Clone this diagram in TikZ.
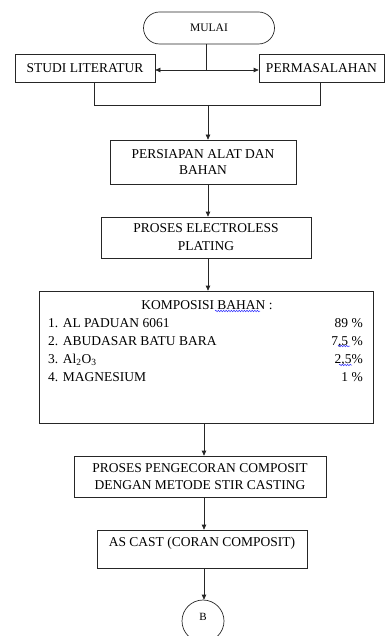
\documentclass[tikz,border=0pt]{standalone}
\usepackage{fontspec}
\setmainfont{Liberation Serif}
\usetikzlibrary{arrows.meta,calc,decorations.pathmorphing}
\begin{document}
\begin{tikzpicture}[x=1pt,y=-1pt,
  box/.style={draw=black!85,line width=0.7pt,inner sep=0pt,align=center,
    font=\fontsize{13.5}{16}\selectfont},
  txt/.style={inner sep=0pt,font=\fontsize{13.5}{16}\selectfont},
  conn/.style={draw=black!85,line width=0.7pt},
  arr/.style={conn,-{Triangle[length=5pt,width=4.5pt]}},
  squig/.style={draw=blue!80,line width=0.5pt,decorate,
    decoration={snake,amplitude=0.8pt,segment length=2.6pt}}]
\useasboundingbox (0,0) rectangle (385,636);
% nodes
\node[box,rounded corners=16pt,minimum width=131pt,minimum height=32pt,
  font=\fontsize{11.5}{14}\selectfont] (mulai) at (209,28) {MULAI};
\node[box,minimum width=140pt,minimum height=28pt] (studi) at (85,68) {STUDI LITERATUR};
\node[box,minimum width=125pt,minimum height=28pt] (perm) at (321.5,68) {PERMASALAHAN};
\node[box,minimum width=186pt,minimum height=44pt,
  font=\fontsize{13.5}{15.3}\selectfont] (persiapan) at (203,162) {PERSIAPAN ALAT DAN\\BAHAN};
\node[box,minimum width=210pt,minimum height=41pt,
  font=\fontsize{13.5}{18}\selectfont] (electro) at (206,237.5) {PROSES ELECTROLESS\\PLATING};
\node[box,minimum width=334pt,minimum height=132pt] (komp) at (206,357) {};
\node[box,minimum width=252pt,minimum height=41pt,
  font=\fontsize{13.5}{17.7}\selectfont] (pengecoran) at (200,476.5) {PROSES PENGECORAN COMPOSIT\\DENGAN METODE STIR CASTING};
\node[box,minimum width=210pt,minimum height=38pt] (ascast) at (202,549) {};
\node[txt] (ascasttxt) at (202,543) {AS CAST (CORAN COMPOSIT)};
\node[draw=black!85,line width=0.7pt,circle,minimum size=42pt,inner sep=0pt,
  font=\fontsize{11}{13}\selectfont] (b) at (203,621) {};
\node[inner sep=0pt,font=\fontsize{11}{13}\selectfont] (btxt) at (203,617) {B};
% composition text
\node[txt,anchor=base] (ktitle) at (207,309.5) {KOMPOSISI BAHAN :};
\node[txt,anchor=base west] (k1) at (48,327.5) {1. AL PADUAN 6061};
\node[txt,anchor=base west] (k2) at (48,345.5) {2. ABUDASAR BATU BARA};
\node[txt,anchor=base west] (k3) at (48,363.5) {3. Al\textsubscript{2}O\textsubscript{3}};
\node[txt,anchor=base west] (k4) at (48,381.5) {4. MAGNESIUM};
\node[txt,anchor=base east] (p1) at (363,327.5) {89 \%};
\node[txt,anchor=base east] (p2) at (363,345.5) {7,5 \%};
\node[txt,anchor=base east] (p3) at (363,363.5) {2,5\%};
\node[txt,anchor=base east] (p4) at (363,381.5) {1 \%};
% spell-check squiggles
\coordinate (s1a) at (215,311); \coordinate (s1b) at (260,311);
\coordinate (s2a) at (338,346); \coordinate (s2b) at (350,346);
\coordinate (s3a) at (339,365); \coordinate (s3b) at (352,365);
\draw[squig] (s1a) -- (s1b);
\draw[squig] (s2a) -- (s2b);
\draw[squig] (s3a) -- (s3b);
% connectors
\coordinate (junc) at (206,70);
\draw[conn] (mulai.south -| junc) -- (junc);
\draw[arr] (junc) -- (studi.east |- junc);
\draw[arr] (junc) -- (perm.west |- junc);
\coordinate (jl) at (94,105);
\coordinate (jr) at (320,105);
\coordinate (jm) at (208,105);
\draw[conn] (studi.south -| jl) -- (jl) -- (jr) -- (perm.south -| jr);
\draw[arr] (jm) -- (persiapan.north -| jm);
\draw[arr] (persiapan.south -| jm) -- (electro.north -| jm);
\draw[arr] (electro.south -| jm) -- (komp.north -| jm);
\coordinate (jb) at (204,423);
\draw[arr] (komp.south -| jb) -- (pengecoran.north -| jb);
\draw[arr] (pengecoran.south -| jb) -- (ascast.north -| jb);
\draw[arr] (ascast.south -| jb) -- (b.north -| jb);
\end{tikzpicture}
\end{document}
